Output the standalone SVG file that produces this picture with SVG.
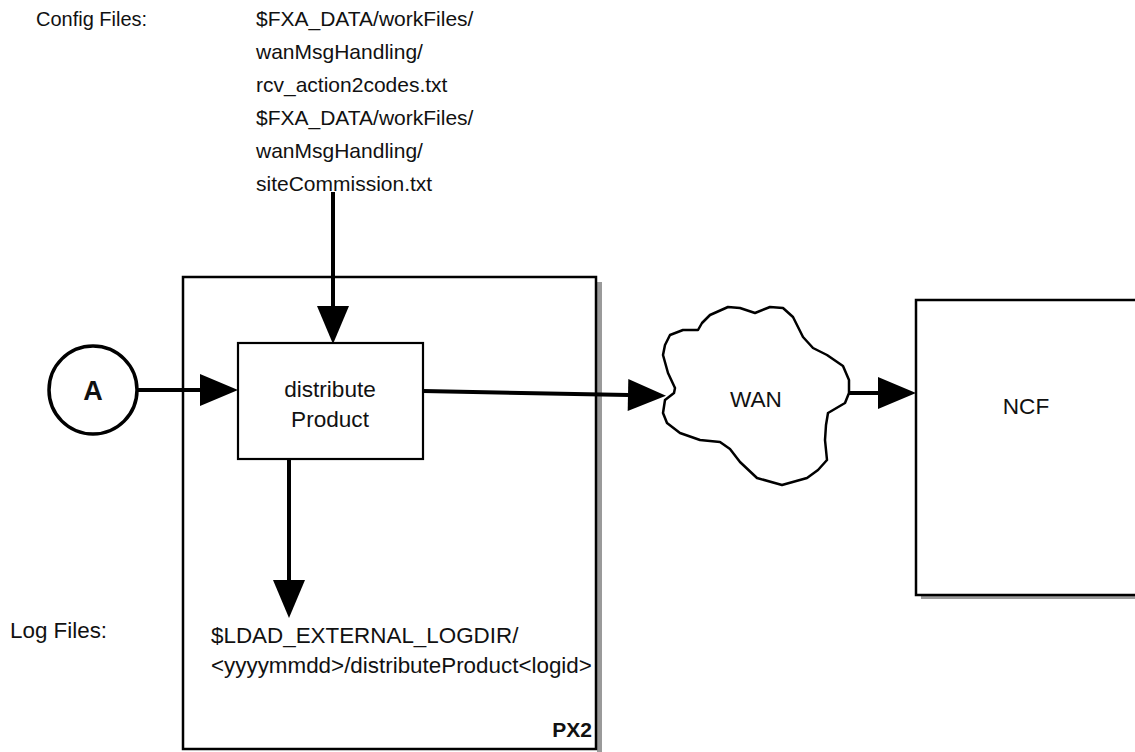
<svg xmlns="http://www.w3.org/2000/svg" width="1135" height="752" viewBox="0 0 1135 752">
<style>
  text { font-family: "Liberation Sans", Arial, sans-serif; fill: #111; }
  .lbl { font-size: 20px; }
  .cfg { font-size: 21px; }
  .log { font-size: 22.4px; }
  .node { font-size: 22.6px; }
  .box { fill: #fff; stroke: #000; stroke-width: 2.5; }
  .shadow { fill: #9a9a9a; }
  .conn { stroke: #000; stroke-width: 4; fill: none; }
</style>
<defs>
  <marker id="arrow" markerUnits="userSpaceOnUse" markerWidth="40" markerHeight="34" refX="0" refY="17" orient="auto" overflow="visible">
    <path d="M0,1 L38,17 L0,33 z" fill="#000"/>
  </marker>
</defs>

<g id="config-label">
  <text class="lbl" x="36" y="26">Config Files:</text>
</g>
<g id="config-files">
  <text class="cfg" x="256" y="26">$FXA_DATA/workFiles/</text>
  <text class="cfg" x="256" y="59">wanMsgHandling/</text>
  <text class="cfg" x="256" y="92">rcv_action2codes.txt</text>
  <text class="cfg" x="256" y="125">$FXA_DATA/workFiles/</text>
  <text class="cfg" x="256" y="158">wanMsgHandling/</text>
  <text class="cfg" x="256" y="191">siteCommission.txt</text>
</g>

<g id="px2">
  <rect class="shadow" x="597" y="282" width="5" height="470"/>
  <rect class="box" x="183" y="277" width="413" height="472"/>
  <text x="592" y="737" text-anchor="end" font-size="21" font-weight="bold">PX2</text>
</g>

<g id="ncf">
  <rect class="shadow" x="921" y="595" width="220" height="4"/>
  <rect class="box" x="916" y="300" width="230" height="295"/>
  <text class="node" x="1026" y="414" text-anchor="middle">NCF</text>
</g>

<g id="connector-a">
  <circle cx="93" cy="390" r="44" fill="#fff" stroke="#000" stroke-width="3.5"/>
  <text x="93" y="400" text-anchor="middle" font-size="27" font-weight="bold">A</text>
</g>

<g id="distribute-product">
  <rect x="238" y="343" width="185" height="116" fill="#fff" stroke="#000" stroke-width="2.2"/>
  <text class="node" x="330" y="397" text-anchor="middle">distribute</text>
  <text class="node" x="330" y="427" text-anchor="middle">Product</text>
</g>

<g id="wan">
  <path d="M675,388 L668,373 L663,355 L665,345 L670,335 L683,330 L698,330 L702,323 L710,315 L728,307 L740,308 L755,313 L770,307 L783,308 L793,317 L803,337 L813,348 L827,355 L843,366 L849,380 L849,393 L845,403 L828,413 L826,425 L825,440 L827,460 L818,470 L807,478 L782,485 L757,478 L740,462 L730,449 L720,442 L700,440 L680,433 L667,423 L663,413 L665,400 L674,393 Z" fill="#fff" stroke="#000" stroke-width="2.5" stroke-linejoin="round"/>
  <text class="node" x="756" y="407" text-anchor="middle">WAN</text>
</g>

<g id="log-label">
  <text class="log" x="10" y="638">Log Files:</text>
</g>
<g id="log-files">
  <text class="log" x="211" y="643">$LDAD_EXTERNAL_LOGDIR/</text>
  <text class="log" x="211" y="673">&lt;yyyymmdd&gt;/distributeProduct&lt;logid&gt;</text>
</g>

<g id="connectors">
  <line class="conn" x1="137" y1="390" x2="200" y2="390" marker-end="url(#arrow)"/>
  <line class="conn" x1="333" y1="192" x2="333" y2="306" marker-end="url(#arrow)"/>
  <line class="conn" x1="289" y1="459" x2="289" y2="580" marker-end="url(#arrow)"/>
  <line class="conn" x1="423" y1="391" x2="628" y2="395" marker-end="url(#arrow)"/>
  <line class="conn" x1="849" y1="393" x2="878" y2="393" marker-end="url(#arrow)"/>
</g>
</svg>
